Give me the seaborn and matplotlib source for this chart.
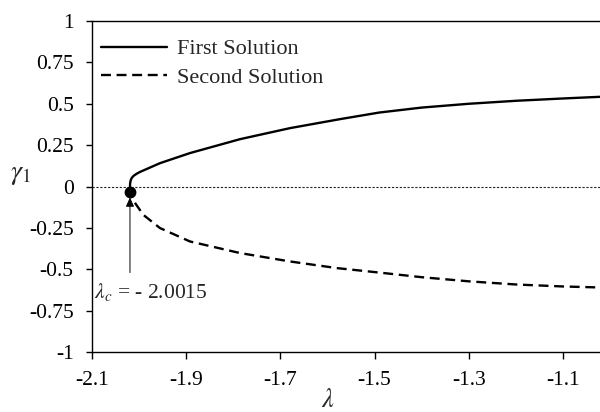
import matplotlib
matplotlib.use("Agg")
import matplotlib.pyplot as plt
import seaborn as sns
import pandas as pd

# Data
first_x = [-2.0188, -2.0184, -2.0172, -2.0148, -2.0105, -2.0035, -1.9976, -1.9552, -1.8916,
           -1.7855, -1.679, -1.5735, -1.49, -1.40, -1.30, -1.20, -1.10, -1.022]
first_y = [0.0, 0.02, 0.038, 0.053, 0.066, 0.079, 0.088, 0.141, 0.202,
           0.286, 0.353, 0.407, 0.447, 0.477, 0.500, 0.518, 0.532, 0.542]
second_x = [-2.0188, -2.0175, -2.0140, -2.0067, -1.9906, -1.9552, -1.8916, -1.7855,
            -1.679, -1.58, -1.49, -1.40, -1.30, -1.20, -1.10, -1.022]
second_y = [-0.01, -0.04, -0.07, -0.105, -0.171, -0.251, -0.332, -0.402,
            -0.453, -0.493, -0.520, -0.548, -0.573, -0.592, -0.604, -0.610]
lambda_c_x = -2.0188
lambda_c_y = -0.036
x_ticks = [-2.1, -1.9, -1.7, -1.5, -1.3, -1.1]
x_tick_labels = ["-2.1", "-1.9", "-1.7", "-1.5", "-1.3", "-1.1"]
y_ticks = [-1, -0.75, -0.5, -0.25, 0, 0.25, 0.5, 0.75, 1]
y_tick_labels = ["-1", "-0.75", "-0.5", "-0.25", "0", "0.25", "0.5", "0.75", "1"]

sns.set_style("ticks")
plt.rcParams["font.family"] = ["Liberation Serif", "DejaVu Serif"]
plt.rcParams["mathtext.fontset"] = "stix"

df1 = pd.DataFrame({"x": first_x, "y": first_y})
df2 = pd.DataFrame({"x": second_x, "y": second_y})

fig = plt.figure(figsize=(6.0, 4.12), dpi=100)
ax = fig.add_axes([0.1528, 0.1456, 0.8472, 0.8034])

sns.lineplot(data=df1, x="x", y="y", ax=ax, color="black", lw=1.7,
             sort=False, label="First Solution", estimator=None)
sns.lineplot(data=df2, x="x", y="y", ax=ax, color="black", lw=1.7,
             sort=False, label="Second Solution", estimator=None,
             linestyle=(0, (4.2, 2.4)))

ax.axhline(0, color="#222222", lw=0.8, linestyle=(0, (2, 1.5)), zorder=1)

# critical point marker and arrow
ax.annotate("", xy=(lambda_c_x, lambda_c_y - 0.03), xytext=(lambda_c_x, -0.52),
            arrowprops=dict(arrowstyle="-|>,head_length=0.55,head_width=0.25",
                            color="black", lw=0.7, shrinkA=0, shrinkB=0))
ax.plot([lambda_c_x], [lambda_c_y], marker="o", color="black", markersize=7.5, zorder=5)
ax.annotate(r"$\lambda_c$" + " = - 2.0015", xy=(-2.095, -0.64), fontsize=15.5,
            ha="left", va="center")

ax.set_xlim(-2.1, -1.022)
ax.set_ylim(-1, 1)
ax.set_xticks(x_ticks)
ax.set_xticklabels(x_tick_labels)
ax.set_yticks(y_ticks)
ax.set_yticklabels(y_tick_labels)
ax.tick_params(axis="both", labelsize=15.5, direction="out", width=1, colors="black")
ax.tick_params(axis="y", length=4, pad=9)
ax.tick_params(axis="x", length=5, pad=9)

for s in ["top", "left", "bottom"]:
    ax.spines[s].set_color("black")
    ax.spines[s].set_linewidth(1.0)
ax.spines["right"].set_visible(False)

ax.set_xlabel(r"$\lambda$", fontsize=19, labelpad=0)
ax.xaxis.set_label_coords(0.465, -0.113)
ax.set_ylabel(r"$\gamma_1$", fontsize=20, rotation=0, labelpad=0)
ax.yaxis.set_label_coords(-0.14, 0.5)

leg = ax.legend(loc="upper left", frameon=False, fontsize=16, handlelength=3.0,
                handletextpad=0.45, labelspacing=0.35, borderaxespad=0.0,
                bbox_to_anchor=(0.0, 0.973))

fig.savefig("out.png", dpi=100)
